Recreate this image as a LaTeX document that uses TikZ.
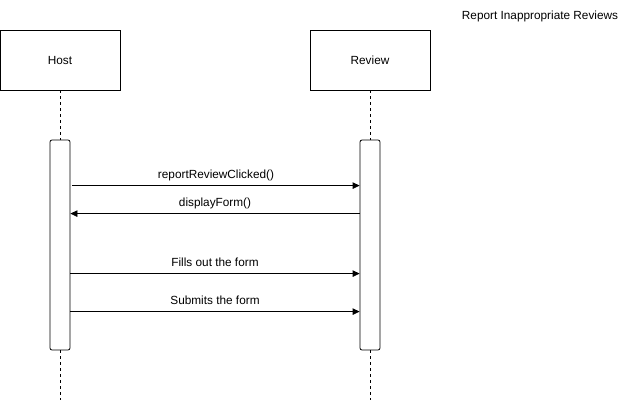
\documentclass[tikz,border=0pt]{standalone}
\usepackage{fontspec}
\setmainfont{Liberation Sans}
\usetikzlibrary{arrows.meta}
\begin{document}
\begin{tikzpicture}[x=1pt,y=-1pt,
  font=\fontsize{11.8}{14}\selectfont,
  actor/.style={draw,line width=0.8pt,minimum width=120pt,minimum height=60pt,inner sep=0pt},
  bar/.style={draw,line width=0.8pt,fill=white,rounded corners=2pt,minimum width=20pt,minimum height=210pt,inner sep=0pt},
  life/.style={draw,line width=0.8pt,dash pattern=on 3pt off 3pt},
  msg/.style={draw,line width=0.8pt,-{Triangle[length=7pt,width=6.5pt]}},
  lbl/.style={font=\fontsize{11.8}{14}\selectfont}]
\useasboundingbox (0,0) rectangle (631,402);
\fill[white] (0,0) rectangle (631,402);
% participants
\node[actor] (host) at (60,60) {Host};
\node[actor] (review) at (370,60) {Review};
% activation bars
\node[bar] (hbar) at (60,245) {};
\node[bar] (rbar) at (370,245) {};
% lifelines
\coordinate (hend) at (60,400);
\coordinate (rend) at (370,400);
\draw[life] (host.south) -- (hbar.north);
\draw[life] (hbar.south) -- (hend);
\draw[life] (review.south) -- (rbar.north);
\draw[life] (rbar.south) -- (rend);
% messages
\draw[msg] ([yshift=-46pt]hbar.north east) ++(2,0) -- node[lbl,above=1pt] {reportReviewClicked()} ([yshift=-46pt]rbar.north west);
\draw[msg] ([yshift=-74pt]rbar.north west) -- node[lbl,above=1pt] {displayForm()} ([yshift=-74pt]hbar.north east);
\draw[msg] ([yshift=-134pt]hbar.north east) -- node[lbl,above=3pt] {Fills out the form} ([yshift=-134pt]rbar.north west);
\draw[msg] ([yshift=-172pt]hbar.north east) -- node[lbl,above=3pt] {Submits the form} ([yshift=-172pt]rbar.north west);
% title
\node[lbl] (title) at (540,16) {Report Inappropriate Reviews};
\end{tikzpicture}
\end{document}
